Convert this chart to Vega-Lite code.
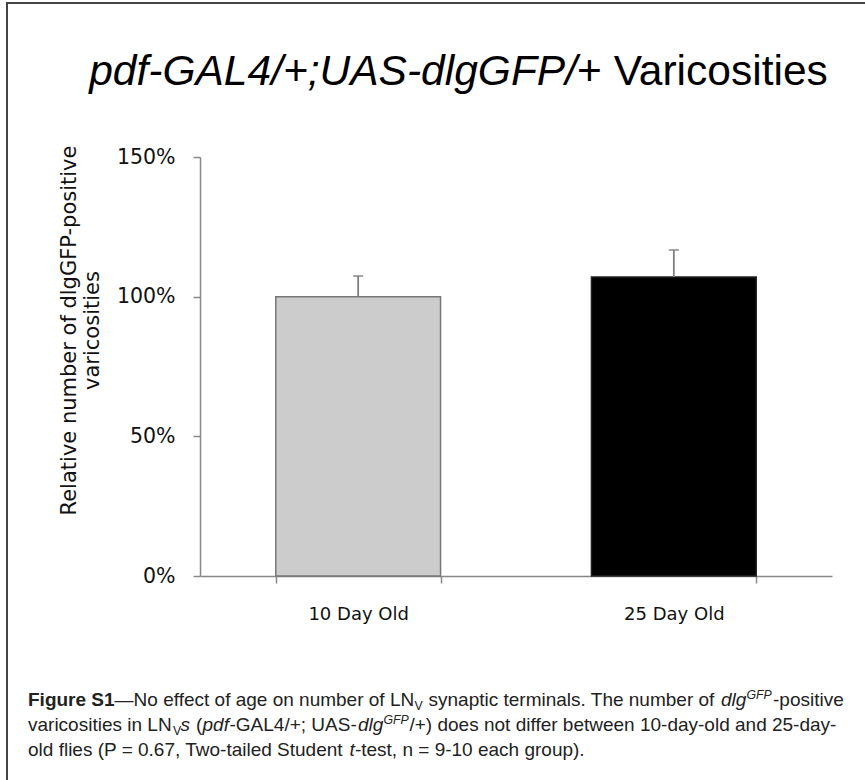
{
  "$schema": "https://vega.github.io/schema/vega-lite/v6.json",
  "width": 632,
  "height": 419,
  "autosize": "none",
  "padding": {"left": 200, "top": 157, "right": 33, "bottom": 204},
  "background": "white",
  "config": {"view": {"stroke": null}},
  "data": {"values": [
    {"group": "10 Day Old", "value": 1.0, "upper": 1.074},
    {"group": "25 Day Old", "value": 1.07, "upper": 1.167}
  ]},
  "layer": [
    {"mark": {"type": "bar", "strokeWidth": 1.5},
      "encoding": {
        "x": {"field": "group", "type": "nominal",
          "scale": {"paddingInner": 0.478, "paddingOuter": 0.24},
          "axis": {"title": null, "labelAngle": 0, "labelFont": "DejaVu Sans", "labelFontSize": 18, "labelColor": "#111",
            "labelPadding": 22, "tickSize": 7, "tickBand": "extent", "domainColor": "#888", "tickColor": "#888", "domainWidth": 1.5, "tickWidth": 1.5}},
        "y": {"field": "value", "type": "quantitative",
          "scale": {"domain": [0, 1.5], "nice": false},
          "axis": {"values": [0, 0.5, 1, 1.5], "format": ".0%", "grid": false,
            "labelFont": "DejaVu Sans", "labelFontSize": 20.5, "labelColor": "#111", "labelPadding": 18, "tickSize": 7,
            "domainColor": "#888", "tickColor": "#888", "domainWidth": 1.5, "tickWidth": 1.5,
            "title": ["Relative number of dlgGFP-positive", "varicosities"],
            "titleFont": "DejaVu Sans", "titleFontSize": 21, "titleFontWeight": "normal", "titleColor": "#111",
            "titleAngle": -90, "titleX": -142, "titleY": 173, "titleAlign": "center", "titleBaseline": "top", "titleLineHeight": 23}},
        "fill": {"field": "group", "type": "nominal", "scale": {"range": ["#cccccc", "#000000"]}, "legend": null},
        "stroke": {"field": "group", "type": "nominal", "scale": {"range": ["#777777", "#222222"]}, "legend": null}
      }},
    {"mark": {"type": "rule", "color": "#808080", "strokeWidth": 1.8},
      "encoding": {"x": {"field": "group", "type": "nominal"}, "y": {"field": "value", "type": "quantitative"}, "y2": {"field": "upper"}}},
    {"mark": {"type": "tick", "color": "#808080", "size": 10, "thickness": 2},
      "encoding": {"x": {"field": "group", "type": "nominal"}, "y": {"field": "upper", "type": "quantitative"}}},
    {"data": {"values": [{}]},
      "mark": {"type": "rect", "fill": null, "stroke": "#444", "strokeWidth": 2, "x": -193, "y": -154, "x2": 720, "y2": 700},
      "encoding": {}},
    {"data": {"values": [{}]},
      "mark": {"type": "text", "font": "Liberation Sans", "fontSize": 42.5, "fontStyle": "italic", "align": "right", "baseline": "alphabetic", "x": 377, "y": -72, "color": "#000"},
      "encoding": {"text": {"value": "pdf-GAL4/+;UAS-dlgGFP/"}}},
    {"data": {"values": [{}]},
      "mark": {"type": "text", "font": "Liberation Sans", "fontSize": 42.5, "align": "left", "baseline": "alphabetic", "x": 377, "y": -72, "color": "#000"},
      "encoding": {"text": {"value": "+ Varicosities"}}},

    {"data": {"values": [{}]}, "mark": {"type": "text", "font": "Liberation Sans", "fontSize": 19, "fontWeight": "bold", "align": "left", "baseline": "alphabetic", "x": -172, "y": 549, "color": "#222"}, "encoding": {"text": {"value": "Figure S1"}}},
    {"data": {"values": [{}]}, "mark": {"type": "text", "font": "Liberation Sans", "fontSize": 19, "align": "left", "baseline": "alphabetic", "x": -85.4, "y": 549, "color": "#222"}, "encoding": {"text": {"value": "—No effect of age on number of LN"}}},
    {"data": {"values": [{}]}, "mark": {"type": "text", "font": "Liberation Sans", "fontSize": 12.3, "align": "left", "baseline": "alphabetic", "x": 214.5, "y": 553, "color": "#222"}, "encoding": {"text": {"value": "V"}}},
    {"data": {"values": [{}]}, "mark": {"type": "text", "font": "Liberation Sans", "fontSize": 19, "align": "left", "baseline": "alphabetic", "x": 228.5, "y": 549, "color": "#222"}, "encoding": {"text": {"value": "synaptic terminals. The number of"}}},
    {"data": {"values": [{}]}, "mark": {"type": "text", "font": "Liberation Sans", "fontSize": 19, "fontStyle": "italic", "align": "left", "baseline": "alphabetic", "x": 521, "y": 549, "color": "#222"}, "encoding": {"text": {"value": "dlg"}}},
    {"data": {"values": [{}]}, "mark": {"type": "text", "font": "Liberation Sans", "fontSize": 12.3, "fontStyle": "italic", "align": "left", "baseline": "alphabetic", "x": 546.5, "y": 542, "color": "#222"}, "encoding": {"text": {"value": "GFP"}}},
    {"data": {"values": [{}]}, "mark": {"type": "text", "font": "Liberation Sans", "fontSize": 19, "align": "left", "baseline": "alphabetic", "x": 573, "y": 549, "color": "#222"}, "encoding": {"text": {"value": "-positive"}}},

    {"data": {"values": [{}]}, "mark": {"type": "text", "font": "Liberation Sans", "fontSize": 19, "align": "left", "baseline": "alphabetic", "x": -172, "y": 574, "color": "#222"}, "encoding": {"text": {"value": "varicosities in LN"}}},
    {"data": {"values": [{}]}, "mark": {"type": "text", "font": "Liberation Sans", "fontSize": 12.3, "align": "left", "baseline": "alphabetic", "x": -27, "y": 578, "color": "#222"}, "encoding": {"text": {"value": "V"}}},
    {"data": {"values": [{}]}, "mark": {"type": "text", "font": "Liberation Sans", "fontSize": 19, "fontStyle": "italic", "align": "left", "baseline": "alphabetic", "x": -19.5, "y": 574, "color": "#222"}, "encoding": {"text": {"value": "s"}}},
    {"data": {"values": [{}]}, "mark": {"type": "text", "font": "Liberation Sans", "fontSize": 19, "align": "left", "baseline": "alphabetic", "x": -4, "y": 574, "color": "#222"}, "encoding": {"text": {"value": "("}}},
    {"data": {"values": [{}]}, "mark": {"type": "text", "font": "Liberation Sans", "fontSize": 19, "fontStyle": "italic", "align": "left", "baseline": "alphabetic", "x": 2.5, "y": 574, "color": "#222"}, "encoding": {"text": {"value": "pdf"}}},
    {"data": {"values": [{}]}, "mark": {"type": "text", "font": "Liberation Sans", "fontSize": 19, "align": "left", "baseline": "alphabetic", "x": 29.5, "y": 574, "color": "#222"}, "encoding": {"text": {"value": "-GAL4/+; UAS-"}}},
    {"data": {"values": [{}]}, "mark": {"type": "text", "font": "Liberation Sans", "fontSize": 19, "fontStyle": "italic", "align": "left", "baseline": "alphabetic", "x": 158, "y": 574, "color": "#222"}, "encoding": {"text": {"value": "dlg"}}},
    {"data": {"values": [{}]}, "mark": {"type": "text", "font": "Liberation Sans", "fontSize": 12.3, "fontStyle": "italic", "align": "left", "baseline": "alphabetic", "x": 183.5, "y": 567, "color": "#222"}, "encoding": {"text": {"value": "GFP"}}},
    {"data": {"values": [{}]}, "mark": {"type": "text", "font": "Liberation Sans", "fontSize": 19, "align": "left", "baseline": "alphabetic", "x": 209.5, "y": 574, "color": "#222"}, "encoding": {"text": {"value": "/+) does not differ between 10-day-old and 25-day-"}}},

    {"data": {"values": [{}]}, "mark": {"type": "text", "font": "Liberation Sans", "fontSize": 19, "align": "left", "baseline": "alphabetic", "x": -172, "y": 599, "color": "#222"}, "encoding": {"text": {"value": "old flies (P = 0.67, Two-tailed Student"}}},
    {"data": {"values": [{}]}, "mark": {"type": "text", "font": "Liberation Sans", "fontSize": 19, "fontStyle": "italic", "align": "left", "baseline": "alphabetic", "x": 149.6, "y": 599, "color": "#222"}, "encoding": {"text": {"value": "t"}}},
    {"data": {"values": [{}]}, "mark": {"type": "text", "font": "Liberation Sans", "fontSize": 19, "align": "left", "baseline": "alphabetic", "x": 154.9, "y": 599, "color": "#222"}, "encoding": {"text": {"value": "-test, n = 9-10 each group)."}}}
  ]
}
